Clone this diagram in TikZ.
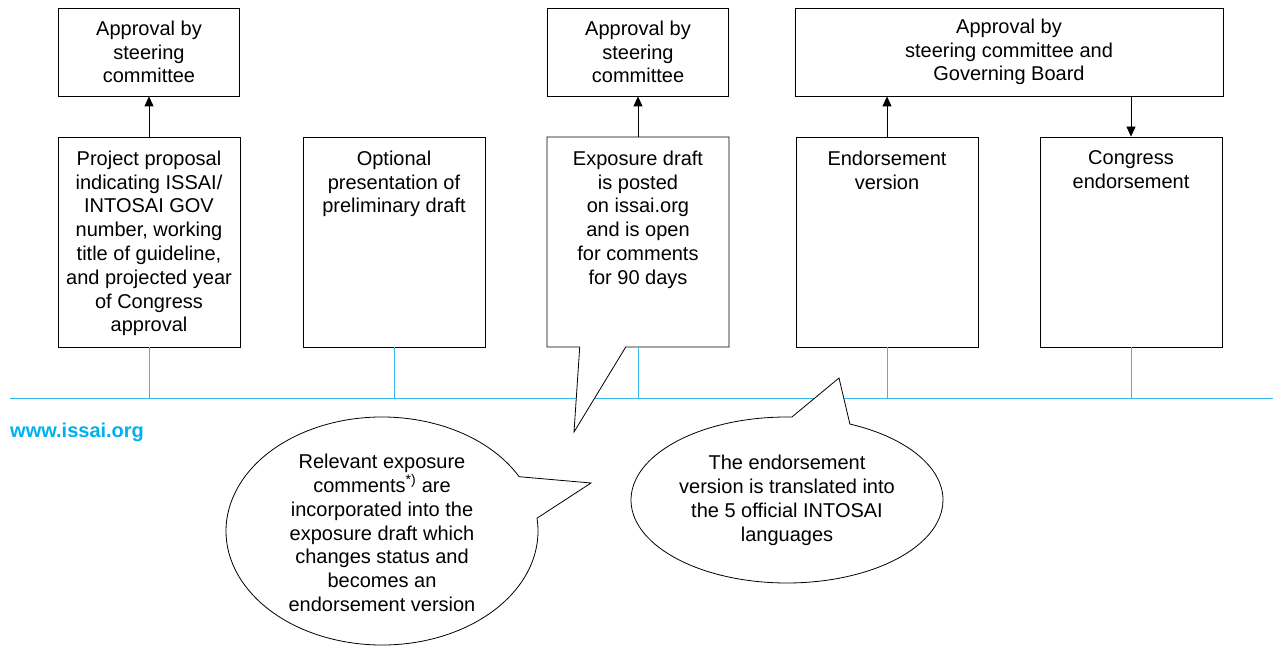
\documentclass[tikz,border=0pt]{standalone}
\usepackage{fontspec}
\setmainfont{Liberation Sans}
\usetikzlibrary{shapes.callouts,arrows.meta}
\definecolor{issaiblue}{HTML}{00B0F0}
\definecolor{lineblue}{HTML}{33B8F0}
\begin{document}
\begin{tikzpicture}[x=1pt,y=-1pt,
  every node/.style={font=\fontsize{20}{23.8}\selectfont, inner sep=0pt},
  box/.style={draw=black, line width=0.8pt, minimum width=182pt, minimum height=210pt, fill=white},
  topbox/.style={draw=black, line width=0.8pt, minimum height=88pt, align=center, fill=white},
  txt/.style={align=center, anchor=north},
  timeline/.style={draw=lineblue, line width=1pt},
  arr/.style={draw=black, line width=0.8pt, -{Triangle[length=10pt,width=9pt]}},
  bubble/.style={ellipse callout, draw=black, line width=0.8pt, fill=white, callout pointer arc=22}
]
\useasboundingbox (0,0) rectangle (1273,647);

% timeline
\coordinate (L0) at (10,398);
\coordinate (L1) at (1273,398);
\draw[timeline] (L0) -- (L1);

% top boxes
\node[topbox, minimum width=181pt] (t1) at (149,52) {Approval by\\steering\\committee};
\node[topbox, minimum width=181pt] (t2) at (638,52) {Approval by\\steering\\committee};
\node[topbox, minimum width=428pt] (t3) at (1009,52) {Approval by\\steering committee and\\Governing Board};

% lower boxes
\node[box] (b1) at (149,242) {};
\node[box] (b2) at (394,242) {};
\coordinate (tipA) at (574,432);
\node[box, rectangle callout, callout absolute pointer={(tipA)}, callout pointer width=46pt] (b3) at (638,242) {};
\node[box] (b4) at (887,242) {};
\node[box] (b5) at (1131,242) {};

% box texts
\node[txt] (x1) at ([yshift=-14pt]b1.north) {Project proposal\\indicating ISSAI/\\INTOSAI GOV\\number, working\\title of guideline,\\and projected year\\of Congress\\approval};
\node[txt] (x2) at ([yshift=-14pt]b2.north) {Optional\\presentation of\\preliminary draft};
\node[txt] (x3) at ([yshift=-14pt]b3.north) {Exposure draft\\is posted\\on issai.org\\and is open\\for comments\\for 90 days};
\node[txt] (x4) at ([yshift=-14pt]b4.north) {Endorsement\\version};
\node[txt] (x5) at ([yshift=-14pt]b5.north) {Congress\\endorsement};

% arrows
\draw[arr] (b1.north) -- (t1.south);
\draw[arr] (b3.north) -- (t2.south);
\draw[arr] (b4.north) -- (b4.north |- t3.south);
\draw[arr] (b5.north |- t3.south) -- (b5.north);

% timeline ticks
\foreach \b in {b1,b2,b3,b4,b5}{
  \draw[timeline] (\b.south) -- (\b.south |- L0);
}

% callouts
\coordinate (tipB) at (591,483);
\coordinate (tipC) at (839,378);
\node[bubble, minimum width=312pt, minimum height=228pt, callout absolute pointer={(tipB)}] (e1) at (382,531) {};
\node[bubble, minimum width=312pt, minimum height=166pt, callout absolute pointer={(tipC)}] (e2) at (787,500) {};
\node[txt] (y1) at (382,454) {Relevant exposure\\comments\textsuperscript{*)} are\\incorporated into the\\exposure draft which\\changes status and\\becomes an\\endorsement version};
\node[txt] (y2) at (787,455) {The endorsement\\version is translated into\\the 5 official INTOSAI\\languages};

% website
\node[anchor=base west, font=\fontsize{20}{24}\selectfont\bfseries, text=issaiblue] (web) at (10,437) {www.issai.org};
\end{tikzpicture}
\end{document}
